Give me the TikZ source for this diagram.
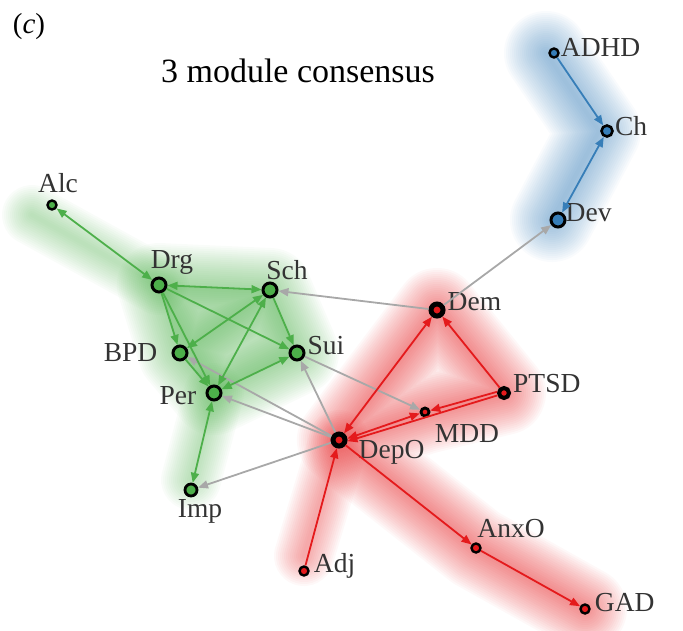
\documentclass[tikz,border=0pt]{standalone}
\usepackage{fontspec}
\setmainfont{Liberation Serif}
\usetikzlibrary{arrows.meta, positioning}
\pgfdeclarelayer{background}
\pgfsetlayers{background,main}
\definecolor{modgreen}{HTML}{4DAF4A}
\definecolor{modred}{HTML}{E41A1C}
\definecolor{modblue}{HTML}{377EB8}
\definecolor{edgegray}{HTML}{A8A8A8}
\definecolor{labelgray}{HTML}{333333}

\begin{document}
\begin{tikzpicture}[x=1pt, y=-1pt,
        font=\fontsize{27.5}{30}\selectfont,
        every label/.style={text=labelgray, inner sep=1pt},
        vert/.style={circle, draw=black, inner sep=0pt},
        big/.style={vert, minimum size=14pt, line width=3pt},
        small/.style={vert, minimum size=9pt, line width=2.4pt},
        hub/.style={vert, minimum size=12pt, line width=5pt},
        link/.style={line width=1.8pt, -{Triangle[length=10pt, width=8pt]}},
        both/.style={line width=1.8pt, {Triangle[length=10pt, width=8pt]}-{Triangle[length=10pt, width=8pt]}},
        glow/.style={line width=#1, opacity=0.032, line cap=round, line join=round}]
        \useasboundingbox (0, 0) rectangle (683, 630);

        \node[text=black, font=\fontsize{29}{31}\selectfont] (panel) at (29, 27) {(\textit{c})};
        \node[text=black, font=\fontsize{34}{36}\selectfont] (title) at (298, 71) {3 module consensus};

        % blue module
        \node[small, fill=modblue, label={[anchor=west, yshift=6pt]0:ADHD}] (adhd) at (554, 53) {};
        \node[vert, minimum size=11pt, line width=2.6pt, fill=modblue, label={[anchor=west, yshift=5pt]0:Ch}] (ch) at (607, 131) {};
        \node[big, fill=modblue, label={[anchor=west, yshift=7pt, label distance=-2pt]0:Dev}] (dev) at (558, 220) {};

        % green module
        \node[small, fill=modgreen, label={[label distance=5pt, xshift=6pt]90:Alc}] (alc) at (52, 205) {};
        \node[big, fill=modgreen, label={[label distance=1pt, xshift=13pt]90:Drg}] (drg) at (159, 285) {};
        \node[big, fill=modgreen, label={[label distance=1pt, xshift=17pt]90:Sch}] (sch) at (270, 290) {};
        \node[big, fill=modgreen, label={[label distance=13pt]180:BPD}] (bpd) at (180, 353) {};
        \node[big, fill=modgreen, label={[anchor=west, yshift=7pt, label distance=1pt]0:Sui}] (sui) at (297, 353) {};
        \node[big, fill=modgreen, label={[label distance=8pt, yshift=-3pt]180:Per}] (per) at (214, 393) {};
        \node[vert, minimum size=12pt, line width=2.8pt, fill=modgreen, label={[label distance=1pt, xshift=9pt]-90:Imp}] (imp) at (191, 490) {};

        % red module
        \node[hub, fill=modred, label={[anchor=west, yshift=8pt, label distance=1pt]0:Dem}] (dem) at (437, 310) {};
        \node[vert, minimum size=10pt, line width=4pt, fill=modred, label={[anchor=west, yshift=9pt, label distance=1pt]0:PTSD}] (ptsd) at (504, 393) {};
        \node[vert, minimum size=8pt, line width=2.8pt, fill=modred, label={[anchor=north, xshift=42pt, label distance=6pt]-90:MDD}] (mdd) at (425, 412) {};
        \node[hub, fill=modred, label={[anchor=west, yshift=-12pt, label distance=10pt]0:DepO}] (depo) at (339, 440) {};
        \node[small, fill=modred, label={[anchor=south, xshift=35pt, label distance=3pt]90:AnxO}] (anxo) at (476, 548) {};
        \node[small, fill=modred, label={[anchor=west, yshift=6pt, label distance=3pt]0:GAD}] (gad) at (585, 609) {};
        \node[small, fill=modred, label={[anchor=west, yshift=5pt, label distance=3pt]0:Adj}] (adj) at (304, 571) {};

        % module halos
        \begin{pgfonlayer}{background}
            \fill[modgreen, opacity=0.25] (drg.center) -- (sch.center) -- (sui.center) -- (per.center) -- (bpd.center) -- cycle;
            \foreach \w in {4, 8, ..., 84} {
                \draw[modgreen, glow=\w pt] (drg.center) -- (sch.center) -- (sui.center) -- (per.center) -- (bpd.center) -- cycle
                    (drg.center) -- (per.center) (sch.center) -- (bpd.center);
                \draw[modred, glow=\w pt] (dem.center) -- (ptsd.center) -- (mdd.center) -- (depo.center) -- cycle
                    (depo.center) -- (anxo.center) -- (gad.center);
                \draw[modblue, glow=\w pt] ([xshift=-8pt]adhd.center) -- ([xshift=-8pt]ch.center) -- ([xshift=-6pt]dev.center);
            }
            \foreach \w in {4, 8, ..., 60} {
                \draw[modgreen, glow=\w pt] ([shift={(-20pt,-10pt)}]alc.center) -- (drg.center)
                    (per.center) -- ([yshift=10pt]imp.center);
                \draw[modred, glow=\w pt] (depo.center) -- ([yshift=15pt]adj.center);
            }
        \end{pgfonlayer}

        % links between modules
        \draw[link, edgegray] (dem) to (dev);
        \draw[link, edgegray] (dem) to (sch);
        \draw[link, edgegray] (sui) to (mdd);
        \draw[link, edgegray] (depo) to (sui);
        \draw[link, edgegray] (depo) to (per);
        \draw[link, edgegray] (depo) to (bpd);
        \draw[link, edgegray] (depo) to (imp);

        \draw[link, modblue] (adhd) to (ch);
        \draw[both, modblue] (ch) to (dev);

        \draw[both, modgreen] (alc) to (drg);
        \draw[both, modgreen] (drg) to (sch);
        \draw[link, modgreen] (drg) to (bpd);
        \draw[link, modgreen] (drg) to (per);
        \draw[link, modgreen] (drg) to (sui);
        \draw[both, modgreen] (sch) to (bpd);
        \draw[both, modgreen] (sch) to (per);
        \draw[link, modgreen] (sch) to (sui);
        \draw[link, modgreen] (bpd) to (per);
        \draw[both, modgreen] (per) to (sui);
        \draw[both, modgreen] (per) to (imp);

        \draw[both, modred] (depo) to (dem);
        \draw[link, modred] (ptsd) to (dem);
        \draw[link, modred] (ptsd.170) to (mdd);
        \draw[link, modred] (ptsd.200) to (depo.-8);
        \draw[both, modred] (depo.10) to (mdd.195);
        \draw[link, modred] (depo) to (anxo);
        \draw[link, modred] (anxo) to (gad);
        \draw[link, modred] (adj) to (depo);
    \end{tikzpicture}
\end{document}
